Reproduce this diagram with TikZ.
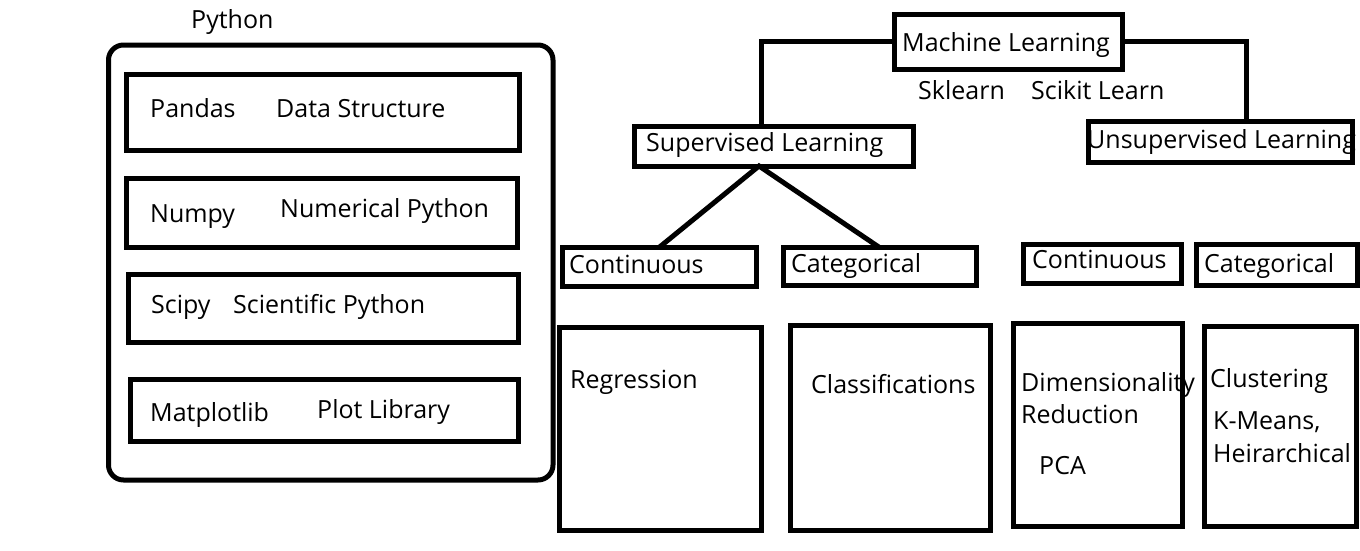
\documentclass[tikz,border=0pt]{standalone}
\usepackage{fontspec}
\setmainfont{Open Sans}
\usetikzlibrary{positioning}
\begin{document}
\begin{tikzpicture}[x=1pt,y=-1pt]
	\tikzset{box/.style={draw,line width=5pt,inner sep=0pt,outer sep=0pt,anchor=north west},
		lbl/.style={anchor=base west,inner sep=0pt,font=\fontsize{25}{30}\selectfont},
		link/.style={line width=5pt}}
	\useasboundingbox (0,0) rectangle (1360,550);
	% Python packages
	\node [lbl] (pytitle) at (191,28) {Python};
	\node [box,rounded corners=15pt,minimum width=444.5pt,minimum height=435pt] (python) at (108.5,45) {};
	\node [box,minimum width=393pt,minimum height=76pt] (pandas) at (126,74) {};
	\node [lbl] at (150,117) {Pandas};
	\node [lbl] at (276,117) {Data Structure};
	\node [box,minimum width=391.5pt,minimum height=69pt] (numpy) at (126,178) {};
	\node [lbl] at (150,222) {Numpy};
	\node [lbl] at (280,217) {Numerical Python};
	\node [box,minimum width=390.5pt,minimum height=68.5pt] (scipy) at (128,274) {};
	\node [lbl] at (151,313) {Scipy};
	\node [lbl] at (233,313) {Scientific Python};
	\node [box,minimum width=388pt,minimum height=62pt] (matplotlib) at (130,379) {};
	\node [lbl] at (150,421) {Matplotlib};
	\node [lbl] at (317,418) {Plot Library};
	% Machine learning tree
	\node [box,minimum width=227.5pt,minimum height=55pt] (ml) at (894.5,14) {};
	\node [lbl] at (902,51) {Machine Learning};
	\node [lbl] at (918,99) {Sklearn};
	\node [lbl] at (1031,99) {Scikit Learn};
	\node [box,minimum width=279pt,minimum height=39.5pt] (sup) at (634,126.5) {};
	\node [lbl] at (646,151) {Supervised Learning};
	\node [box,minimum width=264pt,minimum height=40.5pt] (unsup) at (1088,121.5) {};
	\node [lbl] at (1087,148) {Unsupervised Learning};
	\node [box,minimum width=194pt,minimum height=38.5pt] (scont) at (562,247.5) {};
	\node [lbl] at (569,273) {Continuous};
	\node [box,minimum width=193pt,minimum height=37.5pt] (scat) at (783,247.5) {};
	\node [lbl] at (791,272) {Categorical};
	\node [box,minimum width=158pt,minimum height=39pt] (ucont) at (1023.5,244.5) {};
	\node [lbl] at (1032,268) {Continuous};
	\node [box,minimum width=160.5pt,minimum height=40.5pt] (ucat) at (1196.5,244.5) {};
	\node [lbl] at (1204,272) {Categorical};
	\node [box,minimum width=202.5pt,minimum height=202.5pt] (regr) at (559,327.5) {};
	\node [lbl] at (570,388) {Regression};
	\node [box,minimum width=200pt,minimum height=204.5pt] (classif) at (790,325.5) {};
	\node [lbl] at (811,393) {Classifications};
	\node [box,minimum width=168.5pt,minimum height=202.5pt] (dimred) at (1013.5,323.5) {};
	\node [lbl] at (1021,391) {Dimensionality};
	\node [lbl] at (1021,423) {Reduction};
	\node [lbl] at (1039,474) {PCA};
	\node [box,minimum width=151.5pt,minimum height=199.5pt] (cluster) at (1204.5,326.5) {};
	\node [lbl] at (1210,387) {Clustering};
	\node [lbl] at (1213,429) {K-Means,};
	\node [lbl] at (1213,462) {Heirarchical};
	% connectors
	\draw [link] (ml.west) -| ([xshift=-12.5pt]sup.north);
	\draw [link] (ml.east) -| ([xshift=26pt]unsup.north);
	\draw [link] (scont.north) -- ([xshift=-14.5pt]sup.south) -- (scat.north);
\end{tikzpicture}
\end{document}
